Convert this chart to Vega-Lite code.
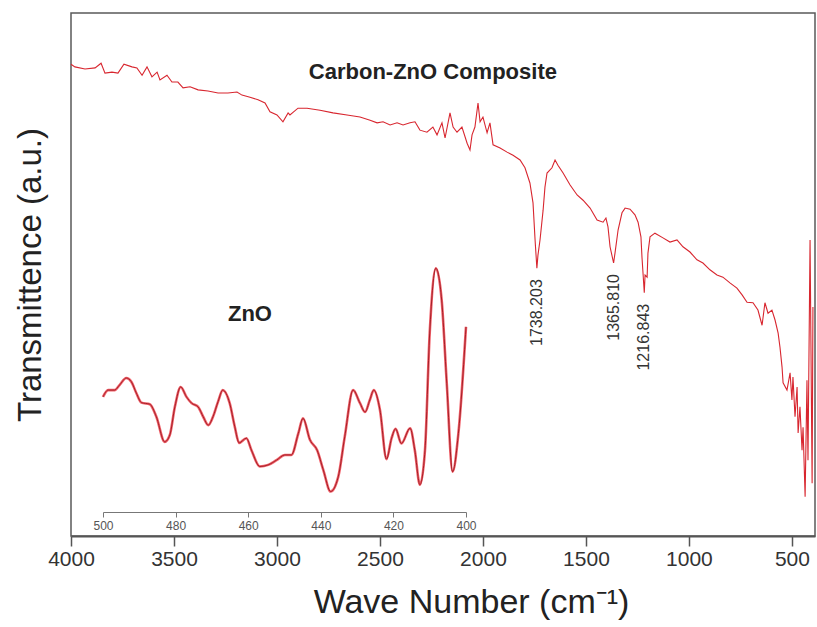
{
  "$schema": "https://vega.github.io/schema/vega-lite/v6.json",
  "width": 744,
  "height": 523,
  "autosize": "none",
  "padding": {"left": 71, "top": 13, "right": 2, "bottom": 91},
  "background": "white",
  "config": {
    "font": "Liberation Sans",
    "view": {"stroke": "#5a5a5a", "strokeWidth": 1.5}
  },
  "datasets": {
    "composite": [
      {"wavenumber": 4000, "transmittance": 90.2}, {"wavenumber": 3981, "transmittance": 89.7},
      {"wavenumber": 3932, "transmittance": 89.3}, {"wavenumber": 3883, "transmittance": 89.5},
      {"wavenumber": 3854, "transmittance": 90.4}, {"wavenumber": 3835, "transmittance": 88.5},
      {"wavenumber": 3801, "transmittance": 88.7}, {"wavenumber": 3772, "transmittance": 88.5},
      {"wavenumber": 3743, "transmittance": 90.2}, {"wavenumber": 3704, "transmittance": 89.7},
      {"wavenumber": 3680, "transmittance": 89.5}, {"wavenumber": 3655, "transmittance": 88.1},
      {"wavenumber": 3631, "transmittance": 89.7}, {"wavenumber": 3607, "transmittance": 87.8},
      {"wavenumber": 3582, "transmittance": 88.7}, {"wavenumber": 3568, "transmittance": 87.2},
      {"wavenumber": 3534, "transmittance": 88.1}, {"wavenumber": 3510, "transmittance": 86.8},
      {"wavenumber": 3481, "transmittance": 86.8}, {"wavenumber": 3456, "transmittance": 85.7},
      {"wavenumber": 3422, "transmittance": 85.9}, {"wavenumber": 3383, "transmittance": 85.3},
      {"wavenumber": 3335, "transmittance": 85.1}, {"wavenumber": 3286, "transmittance": 84.7},
      {"wavenumber": 3238, "transmittance": 84.7}, {"wavenumber": 3194, "transmittance": 84.9},
      {"wavenumber": 3170, "transmittance": 84.3}, {"wavenumber": 3131, "transmittance": 83.9},
      {"wavenumber": 3092, "transmittance": 83.4}, {"wavenumber": 3058, "transmittance": 82.8},
      {"wavenumber": 3034, "transmittance": 81.1}, {"wavenumber": 3000, "transmittance": 80.5},
      {"wavenumber": 2971, "transmittance": 79.2}, {"wavenumber": 2946, "transmittance": 80.9},
      {"wavenumber": 2937, "transmittance": 80.5}, {"wavenumber": 2898, "transmittance": 81.8},
      {"wavenumber": 2854, "transmittance": 81.8}, {"wavenumber": 2791, "transmittance": 81.4},
      {"wavenumber": 2728, "transmittance": 80.9}, {"wavenumber": 2660, "transmittance": 80.5},
      {"wavenumber": 2597, "transmittance": 80.1}, {"wavenumber": 2548, "transmittance": 79.5},
      {"wavenumber": 2514, "transmittance": 79.0}, {"wavenumber": 2485, "transmittance": 79.2},
      {"wavenumber": 2451, "transmittance": 78.6}, {"wavenumber": 2417, "transmittance": 79.0},
      {"wavenumber": 2388, "transmittance": 78.6}, {"wavenumber": 2354, "transmittance": 79.0},
      {"wavenumber": 2330, "transmittance": 79.2}, {"wavenumber": 2306, "transmittance": 77.6},
      {"wavenumber": 2272, "transmittance": 77.2}, {"wavenumber": 2243, "transmittance": 78.2},
      {"wavenumber": 2223, "transmittance": 76.7}, {"wavenumber": 2199, "transmittance": 79.0},
      {"wavenumber": 2184, "transmittance": 76.1}, {"wavenumber": 2160, "transmittance": 80.9},
      {"wavenumber": 2145, "transmittance": 78.2}, {"wavenumber": 2126, "transmittance": 77.2},
      {"wavenumber": 2102, "transmittance": 78.2}, {"wavenumber": 2077, "transmittance": 75.1},
      {"wavenumber": 2063, "transmittance": 73.8}, {"wavenumber": 2053, "transmittance": 76.7},
      {"wavenumber": 2039, "transmittance": 78.2}, {"wavenumber": 2024, "transmittance": 82.8},
      {"wavenumber": 2014, "transmittance": 79.2}, {"wavenumber": 2000, "transmittance": 80.1},
      {"wavenumber": 1980, "transmittance": 77.1}, {"wavenumber": 1966, "transmittance": 79.0},
      {"wavenumber": 1951, "transmittance": 74.8}, {"wavenumber": 1917, "transmittance": 74.2},
      {"wavenumber": 1883, "transmittance": 73.4}, {"wavenumber": 1854, "transmittance": 72.8},
      {"wavenumber": 1820, "transmittance": 71.9}, {"wavenumber": 1796, "transmittance": 70.4},
      {"wavenumber": 1772, "transmittance": 67.5}, {"wavenumber": 1757, "transmittance": 63.7},
      {"wavenumber": 1747, "transmittance": 56.6}, {"wavenumber": 1738.203, "transmittance": 51.2},
      {"wavenumber": 1733, "transmittance": 53.7}, {"wavenumber": 1723, "transmittance": 56.6},
      {"wavenumber": 1708, "transmittance": 62.3}, {"wavenumber": 1699, "transmittance": 66.7},
      {"wavenumber": 1689, "transmittance": 69.4}, {"wavenumber": 1665, "transmittance": 70.4},
      {"wavenumber": 1650, "transmittance": 71.9}, {"wavenumber": 1636, "transmittance": 70.9},
      {"wavenumber": 1611, "transmittance": 69.4}, {"wavenumber": 1577, "transmittance": 67.1},
      {"wavenumber": 1543, "transmittance": 65.2}, {"wavenumber": 1514, "transmittance": 64.2},
      {"wavenumber": 1480, "transmittance": 62.7}, {"wavenumber": 1446, "transmittance": 60.4},
      {"wavenumber": 1417, "transmittance": 60.0}, {"wavenumber": 1403, "transmittance": 60.8},
      {"wavenumber": 1393, "transmittance": 59.1}, {"wavenumber": 1383, "transmittance": 55.3},
      {"wavenumber": 1365.81, "transmittance": 52.2}, {"wavenumber": 1359, "transmittance": 54.1},
      {"wavenumber": 1344, "transmittance": 58.5}, {"wavenumber": 1325, "transmittance": 61.8},
      {"wavenumber": 1310, "transmittance": 62.7}, {"wavenumber": 1286, "transmittance": 62.5},
      {"wavenumber": 1262, "transmittance": 61.4}, {"wavenumber": 1247, "transmittance": 60.0},
      {"wavenumber": 1233, "transmittance": 57.2}, {"wavenumber": 1228, "transmittance": 53.3},
      {"wavenumber": 1223, "transmittance": 50.3}, {"wavenumber": 1216.843, "transmittance": 46.5},
      {"wavenumber": 1213, "transmittance": 49.9}, {"wavenumber": 1203, "transmittance": 49.5},
      {"wavenumber": 1199, "transmittance": 54.1}, {"wavenumber": 1189, "transmittance": 57.2},
      {"wavenumber": 1165, "transmittance": 57.9}, {"wavenumber": 1126, "transmittance": 57.0},
      {"wavenumber": 1092, "transmittance": 56.2}, {"wavenumber": 1058, "transmittance": 56.6},
      {"wavenumber": 1029, "transmittance": 55.3}, {"wavenumber": 995, "transmittance": 54.3},
      {"wavenumber": 961, "transmittance": 52.8}, {"wavenumber": 932, "transmittance": 52.2},
      {"wavenumber": 898, "transmittance": 50.9}, {"wavenumber": 864, "transmittance": 49.9},
      {"wavenumber": 835, "transmittance": 49.5}, {"wavenumber": 801, "transmittance": 48.4},
      {"wavenumber": 767, "transmittance": 47.4}, {"wavenumber": 742, "transmittance": 46.1},
      {"wavenumber": 718, "transmittance": 44.7}, {"wavenumber": 689, "transmittance": 44.6},
      {"wavenumber": 665, "transmittance": 43.2}, {"wavenumber": 645, "transmittance": 40.3},
      {"wavenumber": 631, "transmittance": 44.6}, {"wavenumber": 616, "transmittance": 42.6},
      {"wavenumber": 597, "transmittance": 43.2}, {"wavenumber": 582, "transmittance": 41.3},
      {"wavenumber": 567, "transmittance": 38.8}, {"wavenumber": 558, "transmittance": 36.1},
      {"wavenumber": 548, "transmittance": 32.3}, {"wavenumber": 543, "transmittance": 29.3},
      {"wavenumber": 524, "transmittance": 27.9}, {"wavenumber": 509, "transmittance": 31.2},
      {"wavenumber": 500, "transmittance": 26.0}, {"wavenumber": 495, "transmittance": 30.4},
      {"wavenumber": 485, "transmittance": 22.8}, {"wavenumber": 475, "transmittance": 28.5},
      {"wavenumber": 470, "transmittance": 19.7}, {"wavenumber": 461, "transmittance": 24.7},
      {"wavenumber": 451, "transmittance": 16.4}, {"wavenumber": 446, "transmittance": 20.8},
      {"wavenumber": 436, "transmittance": 7.5}, {"wavenumber": 427, "transmittance": 29.8},
      {"wavenumber": 422, "transmittance": 14.5}, {"wavenumber": 412, "transmittance": 56.6},
      {"wavenumber": 402, "transmittance": 10.1}, {"wavenumber": 398, "transmittance": 43.8}
    ],
    "zno": [
      {"wavenumber": 500.0, "transmittance": 26.6}, {"wavenumber": 498.6, "transmittance": 27.9},
      {"wavenumber": 496.8, "transmittance": 27.9}, {"wavenumber": 495.4, "transmittance": 28.9},
      {"wavenumber": 493.6, "transmittance": 30.2}, {"wavenumber": 492.2, "transmittance": 29.5},
      {"wavenumber": 490.8, "transmittance": 27.3}, {"wavenumber": 489.4, "transmittance": 25.5},
      {"wavenumber": 487.1, "transmittance": 25.2}, {"wavenumber": 485.3, "transmittance": 22.8},
      {"wavenumber": 483.0, "transmittance": 18.0}, {"wavenumber": 481.6, "transmittance": 19.3},
      {"wavenumber": 480.2, "transmittance": 24.7}, {"wavenumber": 478.6, "transmittance": 28.5},
      {"wavenumber": 477.0, "transmittance": 26.6}, {"wavenumber": 475.6, "transmittance": 25.4},
      {"wavenumber": 473.8, "transmittance": 24.7}, {"wavenumber": 472.4, "transmittance": 22.8},
      {"wavenumber": 471.0, "transmittance": 21.2}, {"wavenumber": 469.7, "transmittance": 22.8},
      {"wavenumber": 468.3, "transmittance": 25.7}, {"wavenumber": 467.0, "transmittance": 27.9},
      {"wavenumber": 465.1, "transmittance": 25.4}, {"wavenumber": 463.7, "transmittance": 20.9},
      {"wavenumber": 462.5, "transmittance": 17.8}, {"wavenumber": 460.5, "transmittance": 18.7},
      {"wavenumber": 459.1, "transmittance": 16.4}, {"wavenumber": 456.8, "transmittance": 13.3},
      {"wavenumber": 454.5, "transmittance": 13.6}, {"wavenumber": 452.2, "transmittance": 14.5},
      {"wavenumber": 449.9, "transmittance": 15.5}, {"wavenumber": 448.1, "transmittance": 15.5},
      {"wavenumber": 446.2, "transmittance": 19.6}, {"wavenumber": 444.9, "transmittance": 22.5},
      {"wavenumber": 443.0, "transmittance": 18.4}, {"wavenumber": 441.0, "transmittance": 16.4},
      {"wavenumber": 439.3, "transmittance": 12.6}, {"wavenumber": 437.3, "transmittance": 8.5},
      {"wavenumber": 435.2, "transmittance": 11.3}, {"wavenumber": 433.4, "transmittance": 19.0},
      {"wavenumber": 431.1, "transmittance": 27.9}, {"wavenumber": 429.2, "transmittance": 25.4},
      {"wavenumber": 427.8, "transmittance": 23.7}, {"wavenumber": 426.5, "transmittance": 26.0},
      {"wavenumber": 425.4, "transmittance": 27.9}, {"wavenumber": 423.7, "transmittance": 24.1},
      {"wavenumber": 421.9, "transmittance": 14.7}, {"wavenumber": 420.5, "transmittance": 18.7},
      {"wavenumber": 419.4, "transmittance": 20.5}, {"wavenumber": 417.8, "transmittance": 17.7},
      {"wavenumber": 415.4, "transmittance": 20.6}, {"wavenumber": 414.1, "transmittance": 16.4},
      {"wavenumber": 412.7, "transmittance": 9.8}, {"wavenumber": 411.3, "transmittance": 16.4},
      {"wavenumber": 410.0, "transmittance": 38.8}, {"wavenumber": 408.3, "transmittance": 51.2},
      {"wavenumber": 406.7, "transmittance": 45.1}, {"wavenumber": 405.3, "transmittance": 29.2},
      {"wavenumber": 403.7, "transmittance": 12.3}, {"wavenumber": 402.1, "transmittance": 19.6},
      {"wavenumber": 400.0, "transmittance": 40.0}
    ]
  },
  "layer": [
    {
      "data": {"name": "composite"},
      "encoding": {
        "x": {
          "field": "wavenumber", "type": "quantitative",
          "scale": {"domain": [4000, 388], "nice": false, "zero": false},
          "axis": {
            "orient": "bottom",
            "values": [4000, 3500, 3000, 2500, 2000, 1500, 1000, 500],
            "format": "d",
            "title": "Wave Number (cm⁻¹)",
            "titleFontSize": 34, "titleFontWeight": "normal", "titleColor": "#222",
            "titlePadding": 16, "titleX": 400, "titleAlign": "center",
            "labelFontSize": 21, "labelColor": "#333", "labelPadding": 2, "labelFlush": false,
            "tickSize": 10, "tickColor": "#555", "tickWidth": 1.5,
            "domainColor": "#555", "domainWidth": 2, "grid": false
          }
        },
        "y": {
          "field": "transmittance", "type": "quantitative",
          "scale": {"domain": [0, 100], "nice": false, "zero": false},
          "axis": {
            "title": "Transmittence (a.u.)",
            "titleFontSize": 33, "titleFontWeight": "normal", "titleColor": "#222",
            "titlePadding": 24,
            "labels": false, "ticks": false, "domain": false, "grid": false
          }
        }
      },
      "layer": [
        {"mark": {"type": "line", "color": "#d8262f", "strokeWidth": 1.1}},
        {
          "transform": [{"filter": {"field": "wavenumber", "oneOf": [1738.203, 1365.81, 1216.843]}}],
          "mark": {"type": "text", "angle": 270, "align": "right", "baseline": "middle",
                   "fontSize": 16, "color": "#333", "yOffset": 11},
          "encoding": {
            "text": {"field": "wavenumber", "type": "quantitative", "format": ".3f"}
          }
        },
        {
          "transform": [{"filter": {"field": "wavenumber", "equal": 2243}}],
          "mark": {"type": "text", "text": "Carbon-ZnO  Composite", "fontSize": 22,
                   "fontWeight": "bold", "color": "#222", "yOffset": -55}
        },
        {
          "transform": [{"filter": {"field": "wavenumber", "equal": 3131}}],
          "mark": {"type": "text", "text": "ZnO", "fontSize": 22, "fontWeight": "bold",
                   "color": "#222", "yOffset": 217}
        }
      ]
    },
    {
      "data": {"name": "zno"},
      "encoding": {
        "x": {
          "field": "wavenumber", "type": "quantitative",
          "scale": {"domain": [500, 400], "range": [32, 395], "nice": false, "zero": false},
          "axis": {
            "orient": "bottom", "offset": -24,
            "values": [500, 480, 460, 440, 420, 400],
            "title": null,
            "labelFontSize": 12, "labelColor": "#555", "labelPadding": 3, "labelFlush": false,
            "tickSize": 5, "tickColor": "#777", "domainColor": "#777", "grid": false
          }
        },
        "y": {
          "field": "transmittance", "type": "quantitative",
          "scale": {"domain": [0, 100], "nice": false, "zero": false},
          "axis": {
            "title": "Transmittence (a.u.)",
            "titleFontSize": 33, "titleFontWeight": "normal", "titleColor": "#222",
            "titlePadding": 24,
            "labels": false, "ticks": false, "domain": false, "grid": false
          }
        }
      },
      "layer": [
        {"mark": {"type": "line", "interpolate": "monotone", "color": "#f0505a", "strokeWidth": 2.6, "opacity": 0.9}},
        {"mark": {"type": "line", "interpolate": "monotone", "color": "#9a1820", "strokeWidth": 0.9}}
      ]
    }
  ],
  "resolve": {"scale": {"x": "independent"}}
}
